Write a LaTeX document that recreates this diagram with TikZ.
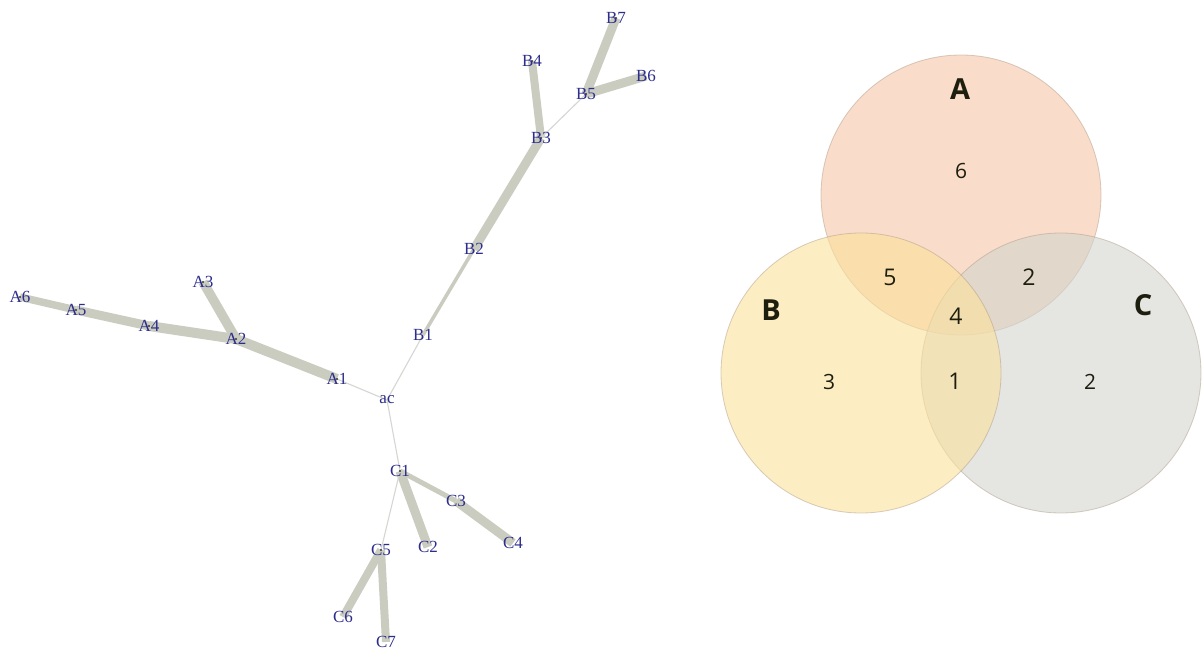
\documentclass[tikz,border=0pt]{standalone}
\usepackage{fontspec}
\setmainfont{Liberation Serif}
\newfontfamily\vennfont{Open Sans}
\usetikzlibrary{backgrounds}
\definecolor{lbl}{RGB}{45,45,140}
\definecolor{edgec}{RGB}{202,204,192}
\definecolor{thinc}{RGB}{214,214,210}
\definecolor{ca}{RGB}{245,197,165}
\definecolor{cb}{RGB}{251,225,155}
\definecolor{cc}{RGB}{212,212,205}
\definecolor{rim}{RGB}{170,150,130}
\definecolor{vtxt}{RGB}{30,30,15}
\begin{document}
\begin{tikzpicture}[x=1pt,y=-1pt,
  tn/.style={text=lbl, font=\fontsize{17}{17}\selectfont, inner sep=0pt},
  br/.style={draw=edgec, line width=#1},
  thinedge/.style={draw=thinc, line width=1.1pt},
  vset/.style={fill=#1, fill opacity=0.6, draw=rim, draw opacity=0.45, line width=0.8pt},
  vname/.style={text=vtxt, font=\vennfont\bfseries\fontsize{29}{29}\selectfont, inner sep=0pt},
  vnum/.style={text=vtxt, font=\vennfont\fontsize{21}{21}\selectfont, inner sep=0pt},
  vnumb/.style={text=vtxt, font=\vennfont\fontsize{23}{23}\selectfont, inner sep=0pt},
  dot/.style={fill=black!80, inner sep=0pt, minimum size=2.2pt, circle}]
\useasboundingbox (0,0) rectangle (1202,652);

% tree nodes
\node[tn] (ac) at (387,400) {ac};
\node[tn] (A1) at (337,379) {A1};
\node[tn] (A2) at (236,339) {A2};
\node[tn] (A3) at (203,282) {A3};
\node[tn] (A4) at (149,326) {A4};
\node[tn] (A5) at (76,310) {A5};
\node[tn] (A6) at (20,297) {A6};
\node[tn] (B1) at (423,335) {B1};
\node[tn] (B2) at (474,249) {B2};
\node[tn] (B3) at (541,138) {B3};
\node[tn] (B4) at (532,61) {B4};
\node[tn] (B5) at (586,94) {B5};
\node[tn] (B6) at (646,76) {B6};
\node[tn] (B7) at (616,18) {B7};
\node[tn] (C1) at (400,471) {C1};
\node[tn] (C2) at (428,547) {C2};
\node[tn] (C3) at (456,501) {C3};
\node[tn] (C4) at (513,543) {C4};
\node[tn] (C5) at (381,550) {C5};
\node[tn] (C6) at (343,617) {C6};
\node[tn] (C7) at (386,642) {C7};

\begin{scope}[on background layer]
\fill[white] (0,0) rectangle (1202,652);
\draw[thinedge] (ac.center) -- (A1.center);
\draw[br=10pt] (A1.center) -- (A2.center);
\draw[br=9.5pt] (A2.center) -- (A3.center);
\draw[br=10pt] (A2.center) -- (A4.center);
\draw[br=9pt] (A4.center) -- (A5.center);
\draw[br=7.5pt] (A5.center) -- (A6.center);
\draw[thinedge] (ac.center) -- (B1.center);
\draw[br=3.5pt] (B1.center) -- (B2.center);
\draw[br=9pt] (B2.center) -- (B3.center);
\draw[br=8pt] (B3.center) -- (B4.center);
\draw[thinedge] (B3.center) -- (B5.center);
\draw[br=9pt] (B5.center) -- (B7.center);
\draw[br=9pt] (B5.center) -- (B6.center);
\draw[thinedge] (ac.center) -- (C1.center);
\draw[br=9pt] (C1.center) -- (C2.center);
\draw[br=5pt] (C1.center) -- (C3.center);
\draw[br=9pt] (C3.center) -- (C4.center);
\draw[thinedge] (C1.center) -- (C5.center);
\draw[br=8pt] (C5.center) -- (C6.center);
\draw[br=8pt] (C5.center) -- (C7.center);
\foreach \n in {A1,A2,A3,A4,A5,A6,B3,B4,B5,B7,C1,C5}
  \node[dot] at (\n.center) {};
\end{scope}

% Venn diagram
\draw[vset=ca] (961,195) circle[radius=140pt];
\draw[vset=cc] (1061,373) circle[radius=140pt];
\draw[vset=cb] (861,373) circle[radius=140pt];

\node[vname] (nA) at (960,89) {A};
\node[vname] (nB) at (771,310) {B};
\node[vname] (nC) at (1143,305) {C};
\node[vnum] (r6) at (961,171) {6};
\node[vnumb] (r5) at (890,277) {5};
\node[vnumb] (r2a) at (1029,277) {2};
\node[vnumb] (r4) at (956,316) {4};
\node[vnum] (r3) at (829,382) {3};
\node[vnumb] (r1) at (955,381) {1};
\node[vnum] (r2b) at (1090,382) {2};
\end{tikzpicture}
\end{document}
